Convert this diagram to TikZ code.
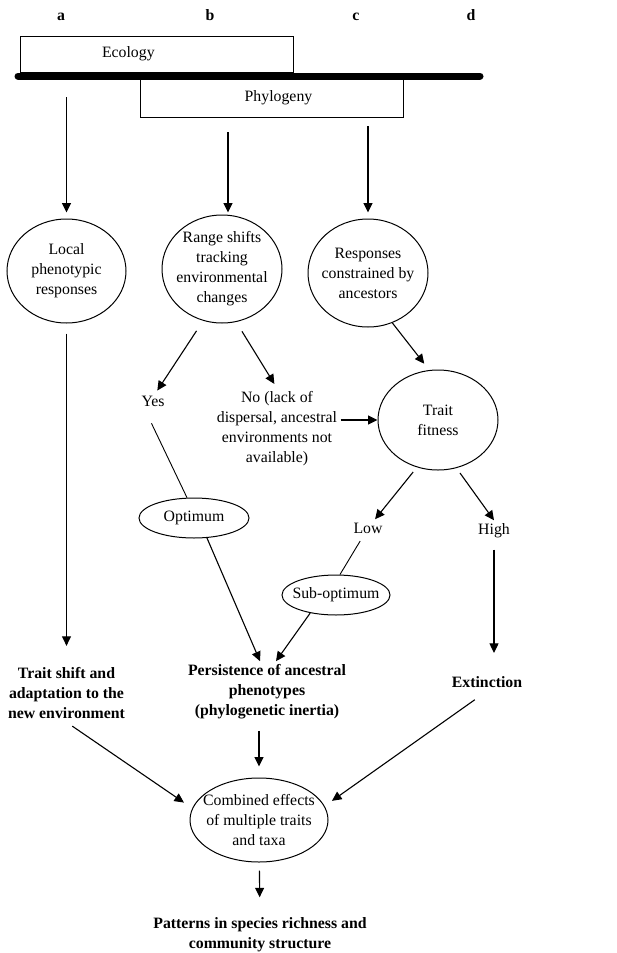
\documentclass[tikz,border=0pt]{standalone}
\usepackage{fontspec}
\setmainfont{Liberation Serif}
\usetikzlibrary{arrows.meta, shapes.geometric, positioning}

\begin{document}
\begin{tikzpicture}[x=1pt, y=-1pt,
    every node/.style={font=\fontsize{15.8}{20}\selectfont, align=center},
    oval/.style={draw, ellipse, line width=1pt, inner sep=-10pt},
    bar/.style={draw, rectangle, line width=0.9pt, inner sep=0pt},
    hdr/.style={font=\fontsize{15.8}{20}\selectfont\bfseries},
    outcome/.style={font=\fontsize{15.8}{20}\selectfont\bfseries},
    flow/.style={-{Triangle[length=9.5pt,width=9pt]}, line width=1.1pt},
    link/.style={line width=0.9pt}]
    \useasboundingbox (0,0) rectangle (617,953);

    % Spalten
    \foreach \col/\x in {a/61,b/210,c/356,d/471}
        \node[hdr, anchor=base] (hdr-\col) at (\x,20) {\col};

    % Ecology / Phylogeny
    \node[bar, minimum width=273pt, minimum height=36pt] (ecol) at (156.5,54) {\makebox[109pt][l]{Ecology}};
    \node[bar, minimum width=263pt, minimum height=38pt] (phylo) at (271.5,98) {\makebox[81.6pt][r]{Phylogeny}};
    \coordinate (axis-l) at (18,76);
    \coordinate (axis-r) at (480,76);
    \draw[line width=7pt, line cap=round] (axis-l) -- (axis-r);

    % Responses
    \coordinate (a-top) at (66.5,97);
    \coordinate (b-top) at (228,132);
    \coordinate (c-top) at (368,126);
    \node[oval, minimum width=119pt, minimum height=104pt] (local) at (66.5,271) {Local\\phenotypic\\responses};
    \node[oval, minimum width=120pt, minimum height=108pt] (range) at (222,269) {Range shifts\\tracking\\environmental\\changes};
    \node[oval, minimum width=120pt, minimum height=108pt] (resp) at (368,273) {Responses\\constrained by\\ancestors};
    \draw[flow, shorten >=6pt] (a-top) -- (local);
    \draw[flow, shorten >=2pt] (b-top) -- (b-top |- range.north);
    \draw[flow, shorten >=6pt] (c-top) -- (resp);

    % Range shifts?
    \node (yes) at (153,401) {Yes};
    \node (no) at (277,429) {No (lack of\\dispersal, ancestral\\environments not\\available)};
    \node[oval, minimum width=120pt, minimum height=100pt] (trait) at (438,420) {Trait\\fitness};
    \draw[flow, shorten <=12pt, shorten >=2pt] (range.250) -- (yes.70);
    \draw[flow, shorten <=11pt, shorten >=5pt] (range.285) -- (no.north);
    \draw[flow, shorten >=8pt] (resp.296) -- (trait.100);
    \draw[flow] (no.east |- trait) -- (trait);

    % Fitness
    \node[oval, minimum width=110pt, minimum height=40pt] (opt) at (194,518) {Optimum};
    \node (low) at (368,528) {Low};
    \node (high) at (494,531) {High};
    \node[oval, minimum width=108pt, minimum height=40pt] (sub) at (336,595) {Sub-optimum};
    \draw[flow, shorten <=6pt] (trait.246) -- (low);
    \draw[flow, shorten <=6pt] (trait.291) -- (high.north);

    % Outcomes
    \node[outcome] (shift) at (66.5,693) {Trait shift and\\adaptation to the\\new environment};
    \node[outcome] (pers) at (267,692) {Persistence of ancestral\\phenotypes\\(phylogenetic inertia)};
    \node[outcome] (ext) at (487,682) {Extinction};
    \draw[flow, shorten <=10pt, shorten >=18pt] (local) -- (shift);
    \draw[link, shorten <=15pt] ([xshift=-8pt]yes.south) -- (opt.109);
    \draw[flow] (opt.303) -- ([xshift=-7pt]pers.north);
    \draw[link, shorten <=5pt] (low) -- (sub.79);
    \draw[flow] (sub.215) -- ([xshift=9pt]pers.north);
    \draw[flow, shorten <=8pt, shorten >=20pt] (high.south) -- (high.south |- ext.north);

    % Combined
    \node[oval, minimum width=138pt, minimum height=84pt] (comb) at (259,820) {Combined effects\\of multiple traits\\and taxa};
    \node[outcome] (patt) at (260,935) {Patterns in species richness and\\community structure};
    \draw[flow, shorten <=7pt, shorten >=10pt] (shift.south) -- (comb.170);
    \draw[flow, shorten <=8pt, shorten >=11pt] (pers.south -| comb) -- (comb);
    \draw[flow, shorten <=15pt, shorten >=9pt] (ext.south) -- (comb.12);
    \draw[flow, shorten <=8pt, shorten >=17pt] (comb) -- (patt);
\end{tikzpicture}
\end{document}
